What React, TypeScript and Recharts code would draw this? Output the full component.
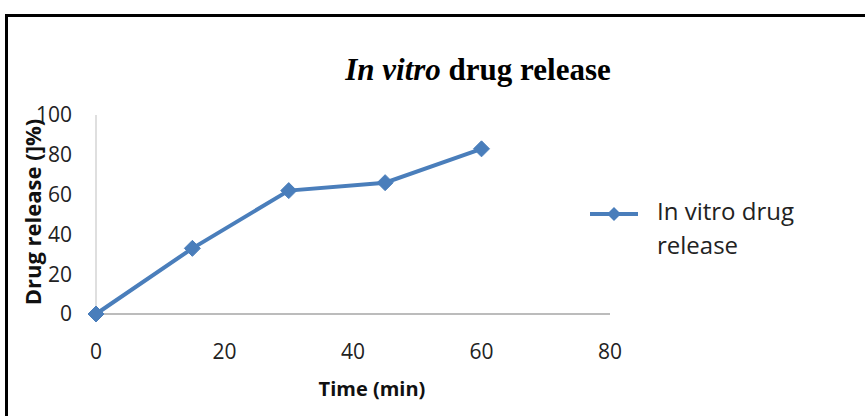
import { LineChart, Line, XAxis, YAxis } from "recharts";

const times = [0, 15, 30, 45, 60];
const release = [0, 33, 62, 66, 83];
const xTicks = [0, 20, 40, 60, 80];
const yTicks = [0, 20, 40, 60, 80, 100];
const seriesName = "In vitro drug release";

const data = times.map((t, i) => ({ t, v: release[i] }));

const BLUE = "#4a7ebb";
const SANS = "'Open Sans', 'Noto Sans', sans-serif";

function Diamond(props: any) {
  const { cx, cy } = props;
  if (cx == null || cy == null) return null;
  const r = 8;
  return (
    <polygon
      points={`${cx},${cy - r} ${cx + r},${cy} ${cx},${cy + r} ${cx - r},${cy}`}
      fill={BLUE}
      stroke={BLUE}
    />
  );
}

function LegendBox() {
  return (
    <div style={{ display: "flex", alignItems: "flex-start", fontFamily: SANS, fontSize: 24, color: "#222" }}>
      <svg width={52} height={24} style={{ marginTop: 8 }}>
        <line x1={2} y1={12} x2={50} y2={12} stroke={BLUE} strokeWidth={4} />
        <polygon points="26,5 33,12 26,19 19,12" fill={BLUE} />
      </svg>
      <div style={{ marginLeft: 17, lineHeight: "34px", width: 190 }}>
        In vitro drug
        <br />
        release
      </div>
    </div>
  );
}

export default function App() {
  return (
    <div style={{ position: "absolute", left: 0, top: 0, width: 865, height: 416, background: "#fff", overflow: "hidden" }}>
      <div
        style={{
          position: "absolute", left: 5, top: 14, width: 900, height: 450,
          borderLeft: "3px solid #000", borderTop: "3px solid #000",
        }}
      />
      <div
        style={{
          position: "absolute", left: 0, width: 956, top: 52, textAlign: "center",
          fontFamily: "'Liberation Serif', 'Times New Roman', serif", fontWeight: "bold", fontSize: 31,
        }}
      >
        <i>In vitro</i> drug release
      </div>
      <div style={{ position: "absolute", left: 32, top: 212, width: 0, height: 0 }}>
        <div
          style={{
            position: "absolute", transform: "translate(-50%, -50%) rotate(-90deg)", whiteSpace: "nowrap",
            fontFamily: SANS, fontWeight: "bold", fontSize: 22, color: "#111",
          }}
        >
          Drug release (]%)
        </div>
      </div>
      <div
        style={{
          position: "absolute", left: 372, top: 388, transform: "translate(-50%, -50%)",
          fontFamily: SANS, fontWeight: "bold", fontSize: 20, color: "#111", whiteSpace: "nowrap",
        }}
      >
        Time (min)
      </div>
      <div style={{ position: "absolute", left: 588, top: 194 }}>
        <LegendBox />
      </div>
      <div style={{ position: "absolute", left: 0, top: 0 }}>
        <LineChart width={865} height={416} data={data} margin={{ top: 115, right: 255, bottom: 72, left: 56 }}>
          <XAxis
            dataKey="t" type="number" domain={[0, 80]} ticks={xTicks}
            axisLine={{ stroke: "#a6a6a6", strokeWidth: 1.5 }} tickLine={false}
            tick={{ fill: "#222", fontSize: 21, fontFamily: SANS, dy: 22 }} height={30}
          />
          <YAxis
            type="number" domain={[0, 100]} ticks={yTicks}
            axisLine={{ stroke: "#bfbfbf", strokeWidth: 1 }} tickLine={false}
            tick={{ fill: "#222", fontSize: 21, fontFamily: SANS, dx: -16 }} width={40}
          />
          <Line
            name={seriesName} dataKey="v" stroke={BLUE} strokeWidth={4}
            dot={<Diamond />} activeDot={false} isAnimationActive={false}
          />
        </LineChart>
      </div>
    </div>
  );
}
